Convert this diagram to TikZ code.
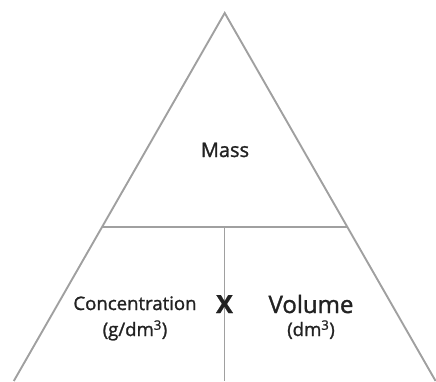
\documentclass[tikz,border=0pt]{standalone}
\usepackage{fontspec}
\setmainfont{Open Sans}[FakeBold=1.3]
\usepackage{tikz}

\begin{document}
\begin{tikzpicture}[
x=1pt, y=-1pt,
line width=1.9pt,
every node/.style={text=txtgray, inner sep=0pt, anchor=base},
label/.style={font=\fontsize{18.6}{22}\selectfont},
unit/.style={font=\fontsize{18.6}{22}\selectfont}
]
\definecolor{linegray}{RGB}{160,160,160}
\definecolor{txtgray}{RGB}{34,34,34}
\useasboundingbox (0,0) rectangle (436,381);

% triangle and dividers
\draw[linegray] (13.8,381) -- (224.7,13) -- (435.6,381);
\draw[linegray] (102.2,226.7) -- (347.2,226.7);
\draw[linegray] (224.5,226.7) -- (224.5,381);

\node[font=\fontsize{20}{24}\selectfont] (mass) at (225,157) {Mass};
\node[label] (conc) at (135,310) {Concentration};
\node[unit] (concunit) at (135,336) {(g/dm\textsuperscript{3})};
\node[font=\fontsize{25}{28}\bfseries] (times) at (224.5,313) {X};
\node[font=\fontsize{24}{28}\selectfont] (vol) at (311,313) {Volume};
\node[unit] (volunit) at (311,336) {(dm\textsuperscript{3})};
\end{tikzpicture}
\end{document}
